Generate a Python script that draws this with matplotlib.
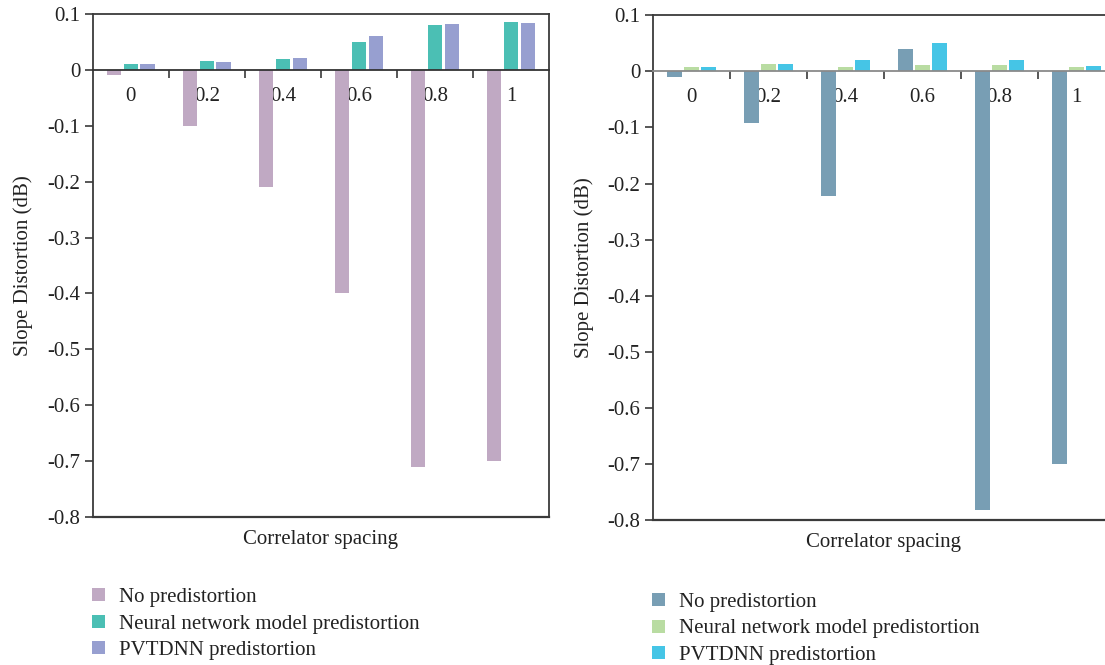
import numpy as np
import matplotlib
matplotlib.use("Agg")
import matplotlib.pyplot as plt
from matplotlib.patches import Patch

plt.rcParams['font.family'] = ['Liberation Serif', 'DejaVu Serif']

spacing = ["0", "0.2", "0.4", "0.6", "0.8", "1"]
series_names = ["No predistortion", "Neural network model predistortion", "PVTDNN predistortion"]

# left panel
left_no = [-0.01, -0.10, -0.21, -0.40, -0.71, -0.70]
left_nn = [0.010, 0.015, 0.020, 0.050, 0.080, 0.085]
left_pvt = [0.010, 0.014, 0.022, 0.060, 0.082, 0.083]
left_colors = ["#c0a9c3", "#4bbfb4", "#979fd0"]

# right panel
right_no = [-0.01, -0.092, -0.222, 0.040, -0.782, -0.70]
right_nn = [0.008, 0.014, 0.008, 0.012, 0.012, 0.008]
right_pvt = [0.008, 0.014, 0.020, 0.050, 0.020, 0.010]
right_colors = ["#789eb4", "#b9dca2", "#45c5e6"]

y_ticks = [0.1, 0, -0.1, -0.2, -0.3, -0.4, -0.5, -0.6, -0.7, -0.8]
y_labels = ["0.1", "0", "-0.1", "-0.2", "-0.3", "-0.4", "-0.5", "-0.6", "-0.7", "-0.8"]

FS = 15
DARK = "#3a3a3a"
TXT = "#222222"


def draw_panel(ax, series, colors, zero_color, right_spine=True):
    x = np.arange(len(spacing))
    width = 0.185
    step = 0.22
    for i, (vals, col) in enumerate(zip(series, colors)):
        ax.bar(x + (i - 1) * step, vals, width=width, color=col, zorder=2)

    ax.set_xlim(-0.5, len(spacing) - 0.5)
    ax.set_ylim(-0.8, 0.1)

    # category axis sits at zero
    ax.spines['bottom'].set_position(('data', 0))
    ax.spines['bottom'].set_color(zero_color)
    ax.spines['bottom'].set_linewidth(1.3)
    ax.spines['bottom'].set_zorder(3)
    for side in ['top', 'left', 'right']:
        ax.spines[side].set_color(DARK)
        ax.spines[side].set_linewidth(1.3)
    ax.spines['right'].set_visible(right_spine)
    ax.axhline(-0.8, color=DARK, lw=1.6, clip_on=False, zorder=3)

    ax.set_xticks(x)
    ax.set_xticklabels(spacing, fontsize=FS)
    ax.set_xticks(np.arange(0.5, len(spacing) - 1, 1.0), minor=True)
    ax.tick_params(axis='x', which='major', length=0, pad=12, colors=TXT)
    ax.tick_params(axis='x', which='minor', length=6, width=1.2, direction='out', color=DARK)

    ax.set_yticks(y_ticks)
    ax.set_yticklabels(y_labels, fontsize=FS)
    ax.tick_params(axis='y', length=6, width=1.2, direction='out', pad=3, colors=TXT)
    ax.tick_params(axis='y', color=DARK)

    ax.set_ylabel("Slope Distortion (dB)", fontsize=FS, color=TXT, labelpad=10)
    ax.text(0.5, -0.025, "Correlator spacing", transform=ax.transAxes,
            ha='center', va='top', fontsize=FS, color=TXT)


fig = plt.figure(figsize=(11.05, 6.65), dpi=100)

ax1 = fig.add_axes([0.0839, 0.2226, 0.4130, 0.7564])
draw_panel(ax1, [left_no, left_nn, left_pvt], left_colors, "#333333")

ax2 = fig.add_axes([0.5910, 0.2180, 0.4180, 0.7590])
draw_panel(ax2, [right_no, right_nn, right_pvt], right_colors, "#8a8a8a", right_spine=False)

for colors, anchor in [(left_colors, (92 / 1105, 1 - 588 / 665)),
                       (right_colors, (652 / 1105, 1 - 593 / 665))]:
    handles = [Patch(facecolor=c, edgecolor='none') for c in colors]
    fig.legend(handles, series_names, loc='upper left', bbox_to_anchor=anchor,
               frameon=False, fontsize=FS, borderpad=0, borderaxespad=0,
               handlelength=0.6, handleheight=0.6, handletextpad=0.7,
               labelspacing=0.36, labelcolor=TXT)

fig.savefig("out.png", dpi=100)
